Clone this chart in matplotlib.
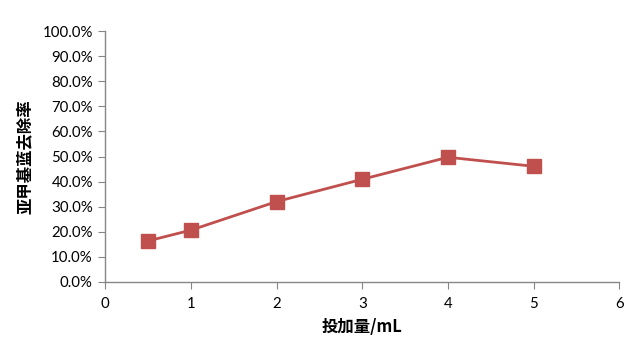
import matplotlib
matplotlib.use("Agg")
import matplotlib.pyplot as plt
from matplotlib.ticker import FuncFormatter, MultipleLocator

dose = [0.5, 1, 2, 3, 4, 5]
removal = [16.3, 20.6, 32.0, 40.9, 49.7, 46.1]

plt.rcParams["font.family"] = ["Lato", "DejaVu Sans"]

fig = plt.figure(figsize=(6.36, 3.57), dpi=100)
ax = fig.add_axes([0.1656, 0.2109, 0.808, 0.7014])

ax.plot(dose, removal, color="#C0504D", linewidth=2.0, marker="s",
        markersize=9.5, markerfacecolor="#C0504D", markeredgecolor="#C0504D")

ax.set_xlim(0, 6)
ax.set_ylim(0, 100)
ax.xaxis.set_major_locator(MultipleLocator(1))
ax.yaxis.set_major_locator(MultipleLocator(10))
ax.yaxis.set_major_formatter(FuncFormatter(lambda v, p: f"{v:.1f}%"))

for s in ["top", "right"]:
    ax.spines[s].set_visible(False)
for s in ["left", "bottom"]:
    ax.spines[s].set_color("#868686")
    ax.spines[s].set_linewidth(1.0)
ax.tick_params(axis="both", colors="#868686", labelcolor="black",
               labelsize=10.8, length=5, direction="out")
ax.tick_params(axis="x", pad=6)
ax.tick_params(axis="y", pad=4)

cjk = ["Noto Sans CJK SC", "DejaVu Sans"]
ax.set_xlabel("投加量/mL", fontsize=11.8, fontweight="bold", family=cjk, labelpad=5)
ax.set_ylabel("亚甲基蓝去除率", fontsize=11.8, fontweight="bold", family=cjk, labelpad=6)

fig.savefig("out.png", dpi=100)
